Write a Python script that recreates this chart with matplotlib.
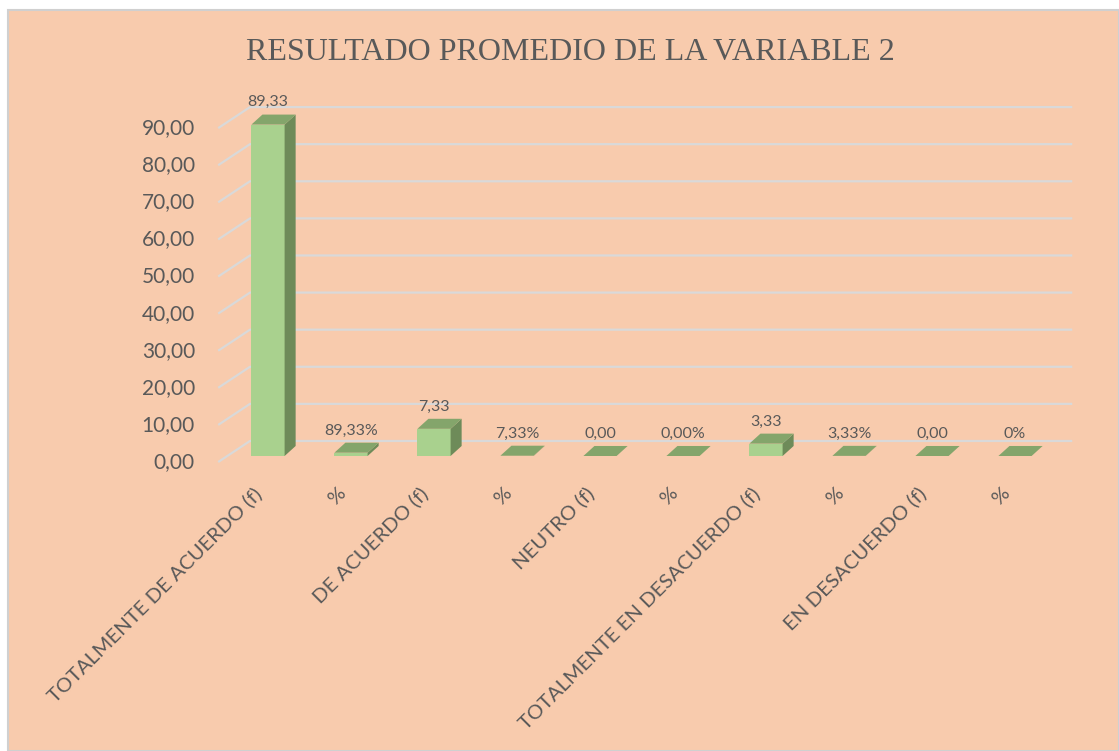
"""
Recreation of an Excel style pseudo-3D column chart.
"""

import matplotlib.pyplot as plt
from matplotlib.patches import Polygon, Rectangle

categories = [
    "TOTALMENTE DE ACUERDO (f)", "%", "DE ACUERDO (f)", "%", "NEUTRO (f)", "%",
    "TOTALMENTE EN DESACUERDO (f)", "%", "EN DESACUERDO (f)", "%",
]
values = [89.33, 0.8933, 7.33, 0.0733, 0.0, 0.0, 3.33, 0.0333, 0.0, 0.0]
value_labels = ["89,33", "89,33%", "7,33", "7,33%", "0,00", "0,00%",
                "3,33", "3,33%", "0,00", "0%"]
y_ticks = [0, 10, 20, 30, 40, 50, 60, 70, 80, 90]
title = "RESULTADO PROMEDIO DE LA VARIABLE 2"

BG = "#F8CBAD"
TXT = "#595959"
GRID = "#D9D9D9"
FRONT = "#A9D18E"
SIDE = "#6E8B59"
TOP = "#84A56B"

# pseudo-3D geometry (category units / value units)
bar_w = 0.40
dx, dy = 0.133, 2.7
wall_dx, wall_dy = 0.383, 4.05     # back wall start vs bar front plane
front_dx, front_dy = -0.60, -1.62  # front end of the gridline diagonals
wall_end = 9.69

fig = plt.figure(figsize=(11.19, 7.51), dpi=100, facecolor="white")
fig.patches.append(Rectangle((8 / 1119, 0), 1 - 8 / 1119, 1 - 10 / 751,
                             transform=fig.transFigure, facecolor=BG,
                             edgecolor="#D0D0D0", linewidth=1.5, zorder=-5))

ax = fig.add_axes([0, 0, 1, 1])
ax.set_xlim(-268 / 83, (1119 - 268) / 83)
ax.set_ylim(-(751 - 456) / 3.71, 456 / 3.71)
ax.axis("off")

# gridlines: diagonal floor part + back wall part
for t in y_ticks:
    ax.plot([front_dx, front_dx + wall_dx, wall_end],
            [t + front_dy, t + wall_dy, t + wall_dy],
            color=GRID, lw=1.6, zorder=1, solid_capstyle="butt")
    ax.text(-0.88, t + front_dy, f"{t:.2f}".replace(".", ","),
            ha="right", va="center", fontsize=15, color=TXT, family="Lato")

# bars
xs = list(range(len(values)))
ax.bar(xs, values, width=bar_w, color=FRONT, zorder=3, linewidth=0)
for x, v, lab in zip(xs, values, value_labels):
    l, r = x - bar_w / 2, x + bar_w / 2
    ax.add_patch(Polygon([(r, 0), (r + dx, dy), (r + dx, v + dy), (r, v)],
                         closed=True, facecolor=SIDE, edgecolor="none", zorder=3))
    ax.add_patch(Polygon([(l, v), (r, v), (r + dx, v + dy), (l + dx, v + dy)],
                         closed=True, facecolor=TOP, edgecolor="none", zorder=4))
    ax.text(x, v + dy + 1.4, lab, ha="center", va="bottom", fontsize=11.5,
            color=TXT, family="Lato")

for x, c in zip(xs, categories):
    ax.text(x - 0.03, -7.6, c, rotation=45, ha="right", va="top",
            fontsize=14.7, color=TXT, family="Lato")

fig.text(570 / 1119, 1 - 52 / 751, title, ha="center", va="center",
         fontsize=23, color=TXT, family="Liberation Serif")

fig.savefig("out.png", dpi=100, facecolor="white")
